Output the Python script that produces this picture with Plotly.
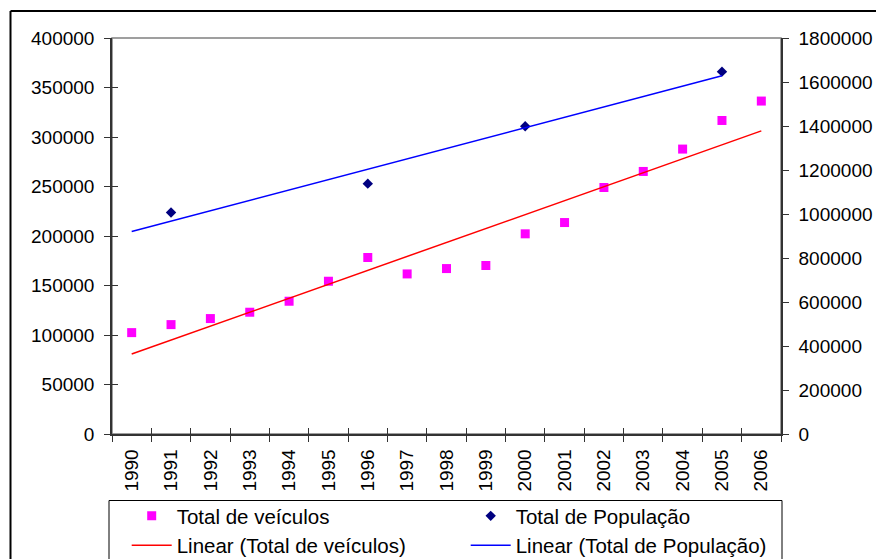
import numpy as np
import plotly.graph_objects as go

# ---- data ----
years = [str(y) for y in range(1990, 2007)]
veiculos = [102400, 110500, 116600, 123000, 134100, 154300, 178300, 161700,
            167100, 170200, 202200, 213600, 249000, 265200, 287800, 316700, 336300]
pop_anos = ["1991", "1996", "2000", "2005"]
populacao = [1007000, 1138000, 1399000, 1647000]

left_ticks = list(range(0, 400001, 50000))
right_ticks = list(range(0, 1800001, 200000))

# ---- linear trendlines (least squares) ----
xv = np.array([int(y) for y in years], dtype=float)
coef_v = np.polyfit(xv, veiculos, 1)
trend_v = np.polyval(coef_v, xv)

xp = np.array([int(y) for y in pop_anos], dtype=float)
coef_p = np.polyfit(xp, populacao, 1)
pop_span = years[:years.index(pop_anos[-1]) + 1]
trend_p = np.polyval(coef_p, np.array([int(y) for y in pop_span], dtype=float))

# ---- geometry ----
W, H = 876, 559
L, R, T, B = 112, 95, 38, 125
PW, PH = W - L - R, H - T - B


def px(x):
    return (x - L) / PW


def py(y):
    return (H - B - y) / PH


FONT = "Liberation Sans, Arial, sans-serif"
FS = 19
LFS = 20.5
AXIS = "#333333"

fig = go.Figure()

fig.add_trace(go.Scatter(
    x=years, y=veiculos, mode="markers", name="Total de veículos",
    marker=dict(symbol="square", size=9, color="#FF00FF"),
    legend="legend", hoverinfo="x+y"))
fig.add_trace(go.Scatter(
    x=pop_anos, y=populacao, mode="markers", name="Total de População",
    marker=dict(symbol="diamond", size=8, color="#000080"),
    yaxis="y2", legend="legend2", hoverinfo="x+y"))
fig.add_trace(go.Scatter(
    x=years, y=trend_v, mode="lines", name="Linear (Total de veículos)",
    line=dict(color="#FF0000", width=1.5), legend="legend3", hoverinfo="skip"))
fig.add_trace(go.Scatter(
    x=pop_span, y=trend_p, mode="lines", name="Linear (Total de População)",
    line=dict(color="#0000FF", width=1.5), yaxis="y2", legend="legend4",
    hoverinfo="skip"))
# invisible helper trace so the inner-tick axes get their categories
fig.add_trace(go.Scatter(
    x=years, y=veiculos, mode="markers", marker=dict(opacity=0),
    xaxis="x2", yaxis="y3", showlegend=False, hoverinfo="skip"))

tickfont = dict(family=FONT, size=FS, color="black")

common_x = dict(type="category", categoryorder="array", categoryarray=years,
                range=[-0.5, len(years) - 0.5], tickson="boundaries",
                ticklen=6, tickcolor=AXIS, showgrid=False, zeroline=False)


def legend_box(x_left, y_mid):
    return dict(orientation="h", x=px(x_left), y=py(y_mid), xanchor="left",
                yanchor="middle", itemwidth=40, bgcolor="rgba(0,0,0,0)",
                borderwidth=0,
                font=dict(family=FONT, size=LFS, color="black"))


COL1, COL2 = 126.7, 465.7
ROW1, ROW2 = 516, 545.5

fig.update_layout(
    width=W, height=H,
    margin=dict(l=L, r=R, t=T, b=B, autoexpand=False),
    paper_bgcolor="white", plot_bgcolor="white",
    font=dict(family=FONT, size=FS, color="black"),
    xaxis=dict(**common_x, ticks="outside", showline=True, linecolor=AXIS,
               linewidth=1.5, tickangle=-90, tickfont=tickfont,
               ticklabelstandoff=6),
    xaxis2=dict(**common_x, ticks="inside", overlaying="x", anchor="y",
                showticklabels=False, showline=False),
    yaxis=dict(range=[0, 400000], tickvals=left_ticks, ticks="outside",
               ticklen=6, tickcolor=AXIS, showline=True, linecolor=AXIS,
               linewidth=1.5, showgrid=False, zeroline=False,
               tickfont=tickfont, tickformat="d", ticklabelstandoff=6),
    yaxis2=dict(range=[0, 1800000], tickvals=right_ticks, overlaying="y",
                side="right", anchor="x", ticks="outside", ticklen=6,
                tickcolor=AXIS, showline=True, linecolor=AXIS, linewidth=1.5,
                showgrid=False, zeroline=False, tickfont=tickfont,
                tickformat="d", ticklabelstandoff=6),
    yaxis3=dict(range=[0, 400000], tickvals=left_ticks, overlaying="y",
                side="left", anchor="x", ticks="inside", ticklen=6,
                tickcolor=AXIS, showticklabels=False, showline=False,
                showgrid=False, zeroline=False),
    yaxis4=dict(range=[0, 1800000], tickvals=right_ticks, overlaying="y",
                side="right", anchor="x", ticks="inside", ticklen=6,
                tickcolor=AXIS, showticklabels=False, showline=False,
                showgrid=False, zeroline=False),
    legend=legend_box(COL1, ROW1),
    legend2=legend_box(COL2, ROW1),
    legend3=legend_box(COL1, ROW2),
    legend4=legend_box(COL2, ROW2),
    showlegend=True,
)

shapes = [
    # plot-area frame (gray, visible along the top)
    dict(type="rect", xref="paper", yref="paper", x0=0, x1=1, y0=0, y1=1,
         line=dict(color="#808080", width=1.5), layer="below"),
    # outer chart border
    dict(type="line", xref="paper", yref="paper", x0=px(10.5), x1=px(W + 5),
         y0=py(11), y1=py(11), line=dict(color="black", width=2)),
    dict(type="line", xref="paper", yref="paper", x0=px(10.5), x1=px(10.5),
         y0=py(11), y1=py(H + 5), line=dict(color="black", width=2)),
    # legend box
    dict(type="rect", xref="paper", yref="paper", x0=px(109), x1=px(782),
         y0=py(500.5), y1=py(H + 5), line=dict(color="black", width=1)),
]
fig.update_layout(shapes=shapes)

fig.write_html("out.html")
